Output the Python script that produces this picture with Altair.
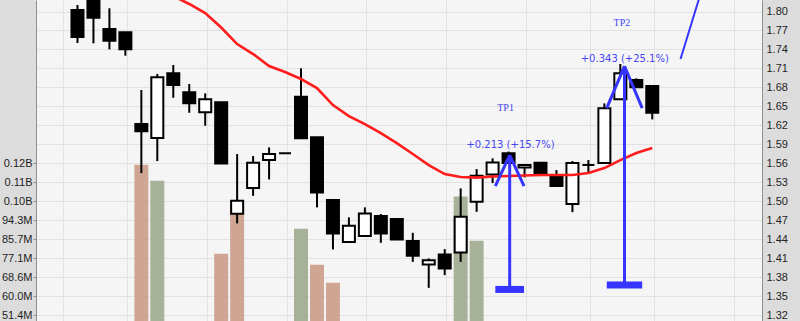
import altair as alt
import pandas as pd

# ---------------- data ----------------
candle_idx = list(range(37))
opens = [1.8024, 1.8166, 1.7723, 1.7671, 1.6221, 1.6000, 1.7023, 1.6722, 1.6406, 1.6564,
         1.4802, 1.5209, 1.5652, 1.5758, 1.6653, 1.6011, 1.5019, 1.4355, 1.4450, 1.4766,
         1.4719, 1.4371, 1.4002, 1.4160, 1.4192, 1.4992, 1.5425, 1.5758, 1.5536, 1.5609,
         1.5399, 1.4956, 1.5573, 1.5604, 1.6612, 1.6917, 1.6822]
highs = [1.8103, 1.8190, 1.8051, 1.7671, 1.6759, 1.7012, 1.7154, 1.6853, 1.6706, 1.6564,
         1.5747, 1.5715, 1.5852, 1.5758, 1.7102, 1.6011, 1.5019, 1.4746, 1.4904, 1.4798,
         1.4719, 1.4502, 1.4097, 1.4244, 1.5204, 1.5509, 1.5679, 1.5786, 1.5573, 1.5609,
         1.5493, 1.5636, 1.5652, 1.6548, 1.7170, 1.6944, 1.6822]
lows = [1.7502, 1.7497, 1.7402, 1.7301, 1.5446, 1.5636, 1.6637, 1.6400, 1.6194, 1.5599,
        1.4651, 1.5087, 1.5346, 1.5758, 1.5995, 1.4904, 1.4239, 1.4355, 1.4450, 1.4344,
        1.4398, 1.4043, 1.3632, 1.3833, 1.4043, 1.4834, 1.5288, 1.5604, 1.5378, 1.5441,
        1.5240, 1.4829, 1.5446, 1.5604, 1.6612, 1.6801, 1.6295]
closes = [1.7597, 1.7902, 1.7538, 1.7402, 1.6106, 1.6959, 1.6838, 1.6548, 1.6612, 1.5599,
          1.5008, 1.5609, 1.5747, 1.5758, 1.5995, 1.5141, 1.4492, 1.4613, 1.4809, 1.4492,
          1.4398, 1.4138, 1.4070, 1.3939, 1.4755, 1.5403, 1.5615, 1.5604, 1.5573, 1.5441,
          1.5240, 1.5604, 1.5573, 1.6469, 1.7023, 1.6801, 1.6400]

ma_idx = list(range(6, 37))
ma_vals = [1.8245, 1.8119, 1.7976, 1.7747, 1.7486, 1.7328, 1.7138, 1.7043, 1.6933, 1.6790,
           1.6521, 1.6347, 1.6221, 1.6079, 1.5920, 1.5747, 1.5573, 1.5430, 1.5383, 1.5375,
           1.5391, 1.5399, 1.5407, 1.5415, 1.5415, 1.5415, 1.5446, 1.5525, 1.5652, 1.5763,
           1.5842]

vol_idx = [4, 5, 9, 10, 14, 15, 16, 24, 25]
vol_vals = [119.3e6, 112.1e6, 79.1e6, 102.3e6, 90.4e6, 74.2e6, 66.0e6, 105.0e6, 85.0e6]
vol_side = ["down", "up", "down", "down", "up", "down", "down", "up", "up"]

price_ticks = [1.32, 1.35, 1.38, 1.41, 1.44, 1.47, 1.50, 1.53, 1.56, 1.59,
               1.62, 1.65, 1.68, 1.71, 1.74, 1.77, 1.80]
vol_ticks = [51.43e6, 60.0e6, 68.57e6, 77.14e6, 85.71e6, 94.29e6, 102.86e6, 111.43e6, 120.0e6]
x_grid = [-0.9, 3.1, 8.1, 13.1, 18.1, 23.1, 28.1, 32.1, 36.1, 41.1]

# target annotations
tp_names = ["TP1", "TP2"]
tp_gains = ["+0.213 (+15.7%)", "+0.343 (+25.1%)"]
tp_x = [27.07, 34.26]
tp_half = [0.90, 1.11]
tp_base = [1.3607, 1.3678]
tp_tip = [1.5731, 1.7138]
tp_head = [1.5240, 1.6474]
tp_name_x = [26.81, 34.10]
tp_name_y = [1.6469, 1.7813]
tp_gain_x = [27.12, 34.28]
tp_gain_y = [1.5889, 1.7249]
ext_x = [37.77, 39.17]
ext_y = [1.7249, 1.8400]

# ---------------- tables ----------------
candles = pd.DataFrame({"k": candle_idx, "open": opens, "high": highs,
                        "low": lows, "close": closes})
candles["dir"] = ["up" if c >= o else "down" for o, c in zip(opens, closes)]

ma = pd.DataFrame({"k": ma_idx, "ma": ma_vals})
vol = pd.DataFrame({"k": vol_idx, "vol": vol_vals, "side": vol_side})

segs = []
for i in range(len(tp_x)):
    segs.append({"x": tp_x[i], "x2": tp_x[i], "y": tp_base[i], "y2": tp_tip[i]})
    segs.append({"x": tp_x[i], "x2": tp_x[i] - tp_half[i], "y": tp_tip[i], "y2": tp_head[i]})
    segs.append({"x": tp_x[i], "x2": tp_x[i] + tp_half[i], "y": tp_tip[i], "y2": tp_head[i]})
segs_df = pd.DataFrame(segs)
bars_df = pd.DataFrame({"x": [a - h for a, h in zip(tp_x, tp_half)],
                        "x2": [a + h for a, h in zip(tp_x, tp_half)],
                        "y": tp_base})
ext_df = pd.DataFrame({"x": [ext_x[0]], "x2": [ext_x[1]], "y": [ext_y[0]], "y2": [ext_y[1]]})
names_df = pd.DataFrame({"x": tp_name_x, "y": tp_name_y, "t": tp_names})
gains_df = pd.DataFrame({"x": tp_gain_x, "y": tp_gain_y, "t": tp_gains})

# ---------------- scales / axes ----------------
GRID = "#e2e2e2"
AX = "#8f8f8f"
BLUE = "#3535ff"
xs = alt.Scale(domain=[-2.285, 42.56], nice=False, zero=False)
ys = alt.Scale(domain=[1.3108, 1.8182], nice=False, zero=False)
vs = alt.Scale(domain=[48.77e6, 193.77e6], nice=False, zero=False)

x_axis = alt.Axis(values=x_grid, grid=True, gridColor=GRID, labels=False, ticks=False,
                  domain=False, title=None)
y_axis = alt.Axis(orient="right", values=price_ticks, format=".2f", grid=True,
                  gridColor=GRID, ticks=False, domain=True, domainColor=AX,
                  labelPadding=4, title=None)
v_axis = alt.Axis(orient="left", values=vol_ticks, grid=False, tickSize=3,
                  tickColor=AX, domain=True, domainColor=AX, labelPadding=1,
                  title=None,
                  labelExpr="datum.value >= 99500000 ? format(datum.value / 1e9, '.2f') + 'B' : format(datum.value / 1e6, '.1f') + 'M'")

def X(f):
    return alt.X(f"{f}:Q", scale=xs, axis=x_axis)

def Y(f):
    return alt.Y(f"{f}:Q", scale=ys, axis=y_axis)

# ---------------- layers ----------------
vol_layer = alt.Chart(vol).mark_bar(size=14).encode(
    x=X("k"),
    y=alt.Y("vol:Q", scale=vs, axis=v_axis),
    color=alt.Color("side:N", scale=alt.Scale(domain=["down", "up"],
                                              range=["#cfa593", "#a6b197"]), legend=None),
)

wicks = alt.Chart(candles).mark_rule(color="black", strokeWidth=2, clip=True).encode(
    x=X("k"), y=Y("low"), y2="high:Q"
)
bodies = alt.Chart(candles).mark_bar(size=12, stroke="black", strokeWidth=2, clip=True).encode(
    x=X("k"), y=Y("open"), y2="close:Q",
    fill=alt.Fill("dir:N", scale=alt.Scale(domain=["up", "down"], range=["white", "black"]),
                  legend=None),
)
ma_line = alt.Chart(ma).mark_line(color="#ff1c1c", strokeWidth=2.6, clip=True).encode(
    x=X("k"), y=Y("ma")
)
tp_segs = alt.Chart(segs_df).mark_rule(color=BLUE, strokeWidth=3, clip=True).encode(
    x=X("x"), x2="x2:Q", y=Y("y"), y2="y2:Q"
)
tp_bars = alt.Chart(bars_df).mark_rule(color=BLUE, strokeWidth=7, clip=True).encode(
    x=X("x"), x2="x2:Q", y=Y("y")
)
ext_line = alt.Chart(ext_df).mark_rule(color=BLUE, strokeWidth=2, clip=True).encode(
    x=X("x"), x2="x2:Q", y=Y("y"), y2="y2:Q"
)
names = alt.Chart(names_df).mark_text(font="Liberation Serif", fontSize=10,
                                      color="#4646f2").encode(
    x=X("x"), y=Y("y"), text="t:N"
)
gains = alt.Chart(gains_df).mark_text(font="DejaVu Sans", fontSize=10,
                                      color="#4646f2").encode(
    x=X("x"), y=Y("y"), text="t:N"
)

price_layers = alt.layer(wicks, bodies, ma_line, tp_segs, tp_bars, ext_line, names, gains)

chart = alt.layer(vol_layer, price_layers).resolve_scale(y="independent").properties(
    width=726, height=321,
    padding={"left": 36, "right": 38, "top": 0, "bottom": 0},
    autosize=alt.AutoSizeParams(type="none"),
).configure(
    background="#dcdcdc"
).configure_view(
    fill="#f5f5f5", strokeWidth=0
).configure_axis(
    labelFont="Liberation Sans", labelFontSize=11, labelColor="#1e1e1e"
)

chart.save("out.html", embed_options={"renderer": "svg", "actions": False})
